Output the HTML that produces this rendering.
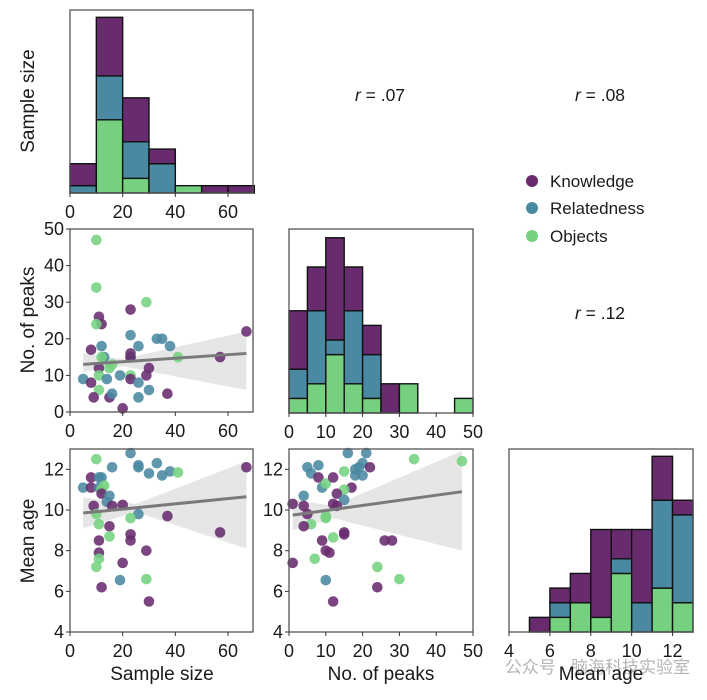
<!DOCTYPE html>
<html><head><meta charset="utf-8"><style>
body{margin:0;background:#fff;}
svg{display:block;font-family:"Liberation Sans","Noto Sans CJK SC",sans-serif;}
</style></head><body>
<svg id="chart" width="707" height="700" viewBox="0 0 707 700" xmlns="http://www.w3.org/2000/svg"></svg>
<script>
const COLORS = {K:'#682b6e', B:'#4a89a2', G:'#75d17f'};
const groupOrder = ['G','B','K'];
// Histogram: sample size (bins of 10, 0-70)
const sampleBins = [0,10,20,30,40,50,60,70];
const sampleK = [3,8,6,2,0,1,1];
const sampleB = [1,6,5,4,0,0,0];
const sampleG = [0,10,2,0,1,0,0];
// Histogram: no. of peaks (bins of 5, 0-50)
const peakBins = [0,5,10,15,20,25,30,35,40,45,50];
const peakK = [4,3,7,3,2,2,0,0,0,0];
const peakB = [2,5,1,5,3,0,0,0,0,0];
const peakG = [1,2,4,2,1,0,2,0,0,1];
// Histogram: mean age (bins of 1, 4-13)
const ageBins = [4,5,6,7,8,9,10,11,12,13];
const ageK = [0,1,1,2,6,2,5,3,1];
const ageB = [0,0,1,0,0,1,2,6,6];
const ageG = [0,0,1,2,1,4,0,3,2];
// Scatter: sample size vs peaks
const ssPeaksX = [10,10,29,23,11,12,10,23,67,12,8,26,33,35,38,13,12,23,23,23,41,57,16,11,30,15,19,29,23,11,5,14,23,8,26,11,30,9,15,16,26,37,20];
const ssPeaksY = [47,34,30,28,26,24,24,21,22,18,17,18,20,20,18,15,15,16,15,15,15,15,13,12,12,12,10,10,10,10,9,9,9,8,8,6,6,4,4,5,4,5,1];
const ssPeaksG = ['G','G','G','K','K','K','G','B','K','B','K','B','B','B','B','B','G','K','B','K','G','K','G','K','K','G','B','K','G','G','B','B','K','K','B','G','B','K','K','B','B','K','K'];
// Scatter: sample size vs mean age
const ssAgeX = [23,10,16,26,26,33,30,35,38,41,67,5,8,11,12,8,11,13,12,12,15,14,9,16,20,10,26,23,37,11,15,57,15,23,23,11,11,11,29,20,10,19,29,12,30];
const ssAgeY = [12.8,12.5,12.1,12.1,12.2,12.3,11.8,11.7,11.9,11.85,12.1,11.1,11.6,11.6,11.6,11.1,11.1,11.2,11.0,10.8,10.7,10.4,10.2,10.2,10.25,9.8,9.8,9.6,9.7,9.3,9.2,8.9,8.7,8.8,8.5,8.5,7.9,7.6,8.0,7.4,7.2,6.55,6.6,6.2,5.5];
const ssAgeG = ['B','G','B','B','B','B','B','B','B','G','K','B','K','B','B','K','B','G','G','K','B','B','K','K','K','G','B','G','K','G','K','K','G','K','K','K','K','G','K','K','G','B','G','K','K'];
// Scatter: peaks vs mean age
const pkAgeX = [16,21,34,47,5,6,8,8,9,10,12,15,18,19,20,18,20,22,17,15,13,15,4,1,4,12,13,5,10,10,6,4,15,15,12,9,26,28,10,11,7,1,24,10,30,24,12];
const pkAgeY = [12.8,12.8,12.5,12.4,12.1,11.8,12.2,11.6,11.1,11.3,11.6,11.9,12.0,12.1,12.3,11.7,11.7,12.1,11.1,11.0,10.8,10.5,10.7,10.3,10.2,10.3,10.2,9.8,9.7,9.6,9.3,9.2,8.9,8.8,8.65,8.5,8.5,8.5,8.0,7.9,7.6,7.4,7.2,6.55,6.6,6.2,5.5];
const pkAgeG = ['B','B','G','G','B','B','B','K','B','G','K','G','B','B','B','B','B','K','K','G','K','B','B','K','K','K','K','K','G','G','G','K','K','K','G','K','K','K','K','K','G','K','G','B','G','K','K'];
// Regression lines [x0,y0,x1,y1] and bands [x, lo, hi]
const fitSS = [5,13,67,16];
const bandSSx = [5,20,67]; const bandSSlo = [11,12.5,6]; const bandSShi = [16,14.5,22];
const fitSA = [5,9.85,67,10.65];
const bandSAx = [5,25,67]; const bandSAlo = [9.1,9.9,8.1]; const bandSAhi = [10.6,10.3,12.4];
const fitPA = [1,9.75,47,10.9];
const bandPAx = [1,12,47]; const bandPAlo = [9.0,9.6,8.0]; const bandPAhi = [10.5,10.2,12.9];

const svg = document.getElementById('chart');
const NS = 'http://www.w3.org/2000/svg';
function mk(tag, attrs, parent){const e=document.createElementNS(NS,tag);for(const k in attrs)e.setAttribute(k,attrs[k]);(parent||svg).appendChild(e);return e;}
function txt(s,x,y,attrs){const e=mk('text',Object.assign({x:x,y:y,'font-size':18,fill:'#1a1a1a'},attrs||{}));e.textContent=s;return e;}

function panel(name,x0,y0,w,h,xmin,xmax,ymin,ymax){
  const g=mk('g',{});
  
  
  return {g:g,sx:v=>x0+(v-xmin)/(xmax-xmin)*w,sy:v=>y0+h-(v-ymin)/(ymax-ymin)*h,x0,y0,w,h};
}
function frame(p){
  const r=mk('rect',{x:p.x0,y:p.y0,width:p.w,height:p.h,fill:'none',stroke:'#555','stroke-width':1.3},p.g);
  
  
}
function xticks(p,vals,name){
  vals.forEach(v=>{const X=p.sx(v);mk('line',{x1:X,x2:X,y1:p.y0+p.h,y2:p.y0+p.h+4,stroke:'#333'},p.g);
    const t=txt(String(v),X,p.y0+p.h+25,{'text-anchor':'middle'});p.g.appendChild(t);});
}
function yticks(p,vals,name){
  vals.forEach(v=>{const Y=p.sy(v);mk('line',{x1:p.x0-4,x2:p.x0,y1:Y,y2:Y,stroke:'#333'},p.g);
    const t=txt(String(v),p.x0-6,Y+6,{'text-anchor':'end'});p.g.appendChild(t);});
}
function hist(p,bins,K,B,G){
  const series={K:K,B:B,G:G};
  for(let i=0;i<bins.length-1;i++){
    let base=0;
    groupOrder.forEach(k=>{const c=series[k][i];
      if(c>0){const r=mk('rect',{x:p.sx(bins[i]),y:p.sy(base+c),width:p.sx(bins[i+1])-p.sx(bins[i]),height:p.sy(base)-p.sy(base+c),fill:COLORS[k],stroke:'#111','stroke-width':1.4},p.g);
        
        }
      base+=c;});
  }
}
function scatter(p,xs,ys,gs,fit,bx,blo,bhi){
  let d='M'+bx.map((x,i)=>p.sx(x)+','+p.sy(bhi[i])).join('L')+'L'+bx.slice().reverse().map((x,i)=>p.sx(x)+','+p.sy(blo[blo.length-1-i])).join('L')+'Z';
  const band=mk('path',{d:d,fill:'#e6e6e6'},p.g);
  
  
  xs.forEach((x,i)=>{const c=mk('circle',{cx:p.sx(x),cy:p.sy(ys[i]),r:5.3,fill:COLORS[gs[i]],'fill-opacity':0.88},p.g);
    
    });
  const l=mk('line',{x1:p.sx(fit[0]),y1:p.sy(fit[1]),x2:p.sx(fit[2]),y2:p.sy(fit[3]),stroke:'#7a7a7a','stroke-width':3},p.g);
  
  
}

const p1=panel('sample-size-histogram',70,10,183,183,0,69.5,0,25);
hist(p1,sampleBins,sampleK,sampleB,sampleG);frame(p1);xticks(p1,[0,20,40,60],'x-tick');
const p2=panel('sample-vs-peaks-scatter',70,229,183,183,0,69.5,0,50);
scatter(p2,ssPeaksX,ssPeaksY,ssPeaksG,fitSS,bandSSx,bandSSlo,bandSShi);frame(p2);
xticks(p2,[0,20,40,60],'x-tick');yticks(p2,[0,10,20,30,40,50],'y-tick');
const p3=panel('peaks-histogram',289,229,184,184,0,50,0,12.6);
hist(p3,peakBins,peakK,peakB,peakG);frame(p3);xticks(p3,[0,10,20,30,40,50],'x-tick');
const p4=panel('sample-vs-age-scatter',70,449,183,183,0,69.5,4,13);
scatter(p4,ssAgeX,ssAgeY,ssAgeG,fitSA,bandSAx,bandSAlo,bandSAhi);frame(p4);
xticks(p4,[0,20,40,60],'x-tick');yticks(p4,[4,6,8,10,12],'y-tick');
const p5=panel('peaks-vs-age-scatter',289,449,184,183,0,50,4,13);
scatter(p5,pkAgeX,pkAgeY,pkAgeG,fitPA,bandPAx,bandPAlo,bandPAhi);frame(p5);
xticks(p5,[0,10,20,30,40,50],'x-tick');yticks(p5,[4,6,8,10,12],'y-tick');
const p6=panel('age-histogram',509,449,184,183,4,13,0,12.5);
hist(p6,ageBins,ageK,ageB,ageG);frame(p6);xticks(p6,[4,6,8,10,12],'x-tick');
</script>
<script>
(function(){
const svg=document.getElementById('chart');const NS='http://www.w3.org/2000/svg';
function t(s,x,y,name,extra){const e=document.createElementNS(NS,'text');e.setAttribute('x',x);e.setAttribute('y',y);e.setAttribute('font-size',extra&&extra.fs||19);e.setAttribute('fill',extra&&extra.fill||'#1a1a1a');
 if(extra&&extra.anchor)e.setAttribute('text-anchor',extra.anchor);if(extra&&extra.rot)e.setAttribute('transform',extra.rot);
 e.textContent=s;svg.appendChild(e);return e;}
t('Sample size',34,101,'y-axis-title-sample-size',{anchor:'middle',rot:'rotate(-90 34 101)'});
t('No. of peaks',34,320,'y-axis-title-peaks',{anchor:'middle',rot:'rotate(-90 34 320)'});
t('Mean age',34,541,'y-axis-title-age',{anchor:'middle',rot:'rotate(-90 34 541)'});
t('Sample size',162,680,'x-axis-title-sample-size',{anchor:'middle'});
t('No. of peaks',381,680,'x-axis-title-peaks',{anchor:'middle'});
t('公众号 · 脑海科技实验室',690,673,'watermark',{anchor:'end',fill:'#b5b5b5',fs:17});
t('Mean age',601,680,'x-axis-title-age',{anchor:'middle'});
[['r = .07',380,101],['r = .08',600,101],['r = .12',600,319]].forEach(a=>{
 const e=t('',a[1],a[2],'correlation-label',{anchor:'middle',fs:17.5});
 const s1=document.createElementNS(NS,'tspan');s1.setAttribute('font-style','italic');s1.textContent='r';e.appendChild(s1);
 const s2=document.createElementNS(NS,'tspan');s2.textContent=' = '+a[0].split('= ')[1];e.appendChild(s2);});
const leg=[['Knowledge','#682b6e',181],['Relatedness','#4a89a2',208],['Objects','#75d17f',236]];
leg.forEach(l=>{const c=document.createElementNS(NS,'circle');c.setAttribute('cx',532);c.setAttribute('cy',l[2]);c.setAttribute('r',6);c.setAttribute('fill',l[1]);
 svg.appendChild(c);
 t(l[0],550,l[2]+6,'legend-entry',{fs:17});});
})();
</script>
</body></html>
